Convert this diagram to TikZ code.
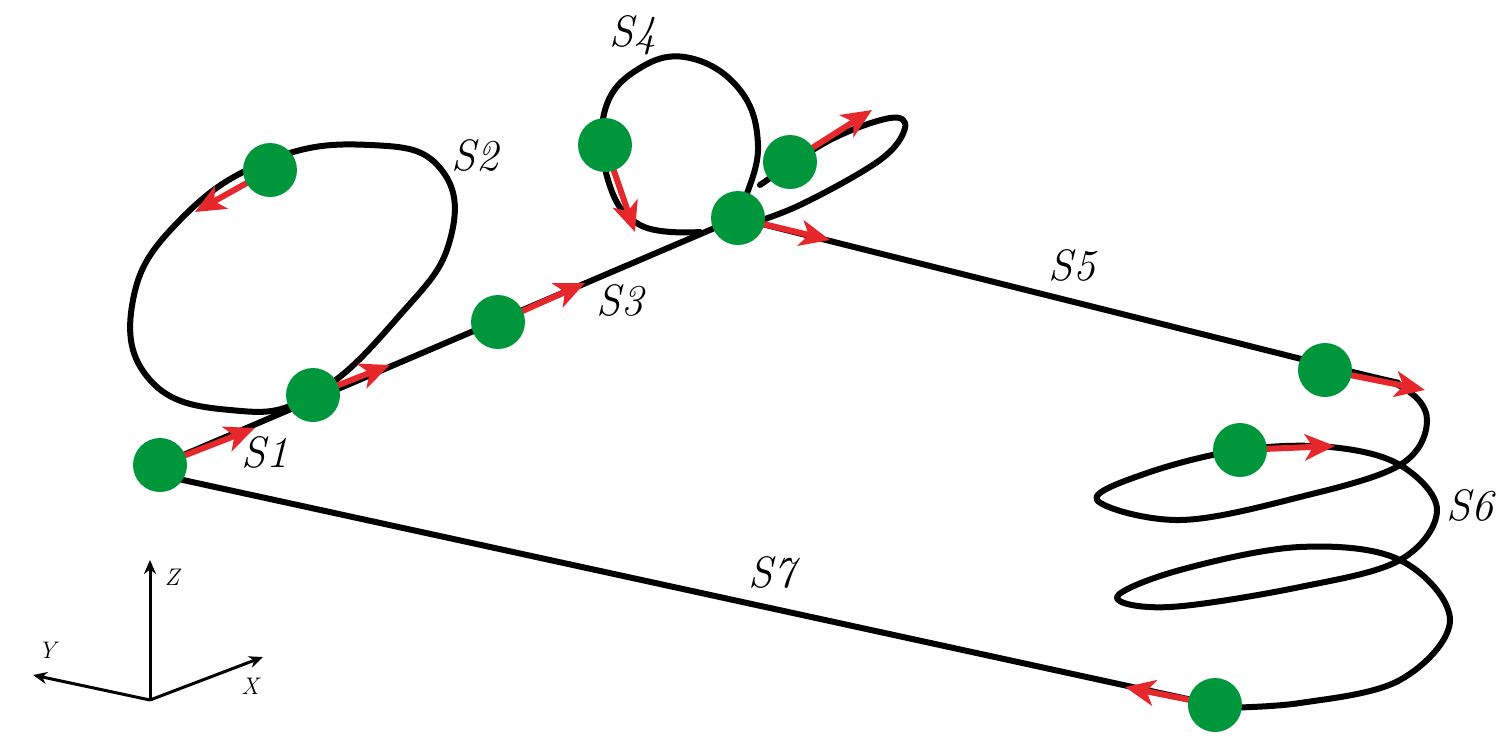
\documentclass[tikz,border=0pt]{standalone}
\usetikzlibrary{arrows.meta}
\definecolor{ballg}{RGB}{0,150,60}
\definecolor{arr}{RGB}{230,40,45}
\begin{document}
\begin{tikzpicture}[x=0.5pt,y=-0.5pt,
  path/.style={line width=3pt,black,line cap=round,line join=round},
  ball/.style={circle,fill=ballg,minimum size=27pt,inner sep=0pt},
  vel/.style={arr,line width=3pt,-{Stealth[length=15pt,width=13pt,inset=4pt]}},
  lab/.style={font=\fontsize{22}{22}\selectfont\itshape,inner sep=0pt},
  axl/.style={font=\fontsize{12}{12}\selectfont\itshape,inner sep=0pt},
  ax/.style={line width=1.5pt,-{Stealth[length=7pt,width=6pt]}}]
\useasboundingbox (0,0) rectangle (1512,751);
% S2 loop
\draw[path] plot[smooth cycle,tension=0.75] coordinates {(313,395) (400,315) (450,240) (440,168) (370,145) (270,160) (180,220) (133,300) (150,380) (230,410)};
% S4 loop
\draw[path] plot[smooth,tension=0.7] coordinates {(700,232) (640,225) (608,180) (605,110) (640,68) (690,58) (740,90) (758,145) (745,200) (738,218)};
% narrow loop
\draw[path] plot[smooth,tension=0.6] coordinates {(760,185) (830,140) (890,118) (905,128) (880,160) (800,205) (738,228)};
% S1,S3 line
\draw[path] (160,465) -- (738,218);
% S5 + S6
\draw[path] plot[smooth,tension=0.6] coordinates {(738,218) (1325,365) (1400,386) (1427,420) (1400,465) (1300,497) (1180,520) (1097,500) (1147,473) (1240,450) (1330,447) (1400,465) (1437,510) (1400,560) (1300,587) (1170,607) (1117,597) (1180,570) (1300,547) (1400,560) (1450,620) (1400,680) (1300,703) (1215,708)};
\draw[path] (1215,705) -- (160,475);
% velocity arrows
\coordinate (e1) at (255,428);
\coordinate (e2) at (390,365);
\coordinate (e3) at (195,212);
\coordinate (e4) at (585,283);
\coordinate (e5) at (635,232);
\coordinate (e6) at (872,110);
\coordinate (e7) at (830,240);
\coordinate (e8) at (1425,390);
\coordinate (e9) at (1335,446);
\coordinate (e10) at (1125,687);
\coordinate (c1) at (160,465);
\coordinate (c2) at (313,395);
\coordinate (c3) at (270,170);
\coordinate (c4) at (498,322);
\coordinate (c5) at (605,145);
\coordinate (c6) at (790,162);
\coordinate (c7) at (738,218);
\coordinate (c8) at (1325,370);
\coordinate (c9) at (1240,450);
\coordinate (c10) at (1215,705);
\foreach \i in {1,...,10} {\draw[vel] (c\i) -- (e\i);}
% balls
\foreach \i in {1,...,10} {\node[ball] (b\i) at (c\i) {};}
% labels
\node[lab] at (265,452) {S1};
\node[lab] at (475,155) {S2};
\node[lab] at (620,300) {S3};
\node[lab] at (633,35) {S4};
\node[lab] at (1072,265) {S5};
\node[lab] at (1470,505) {S6};
\node[lab] at (772,572) {S7};
% axes
\coordinate (o) at (150,700);
\coordinate (zz) at (150,560);
\coordinate (yy) at (33,675);
\coordinate (xx) at (263,657);
\draw[ax] (o) -- (zz);
\draw[ax] (o) -- (yy);
\draw[ax] (o) -- (xx);
\node[axl] at (172,577) {Z};
\node[axl] at (47,650) {Y};
\node[axl] at (250,686) {X};
\end{tikzpicture}
\end{document}
